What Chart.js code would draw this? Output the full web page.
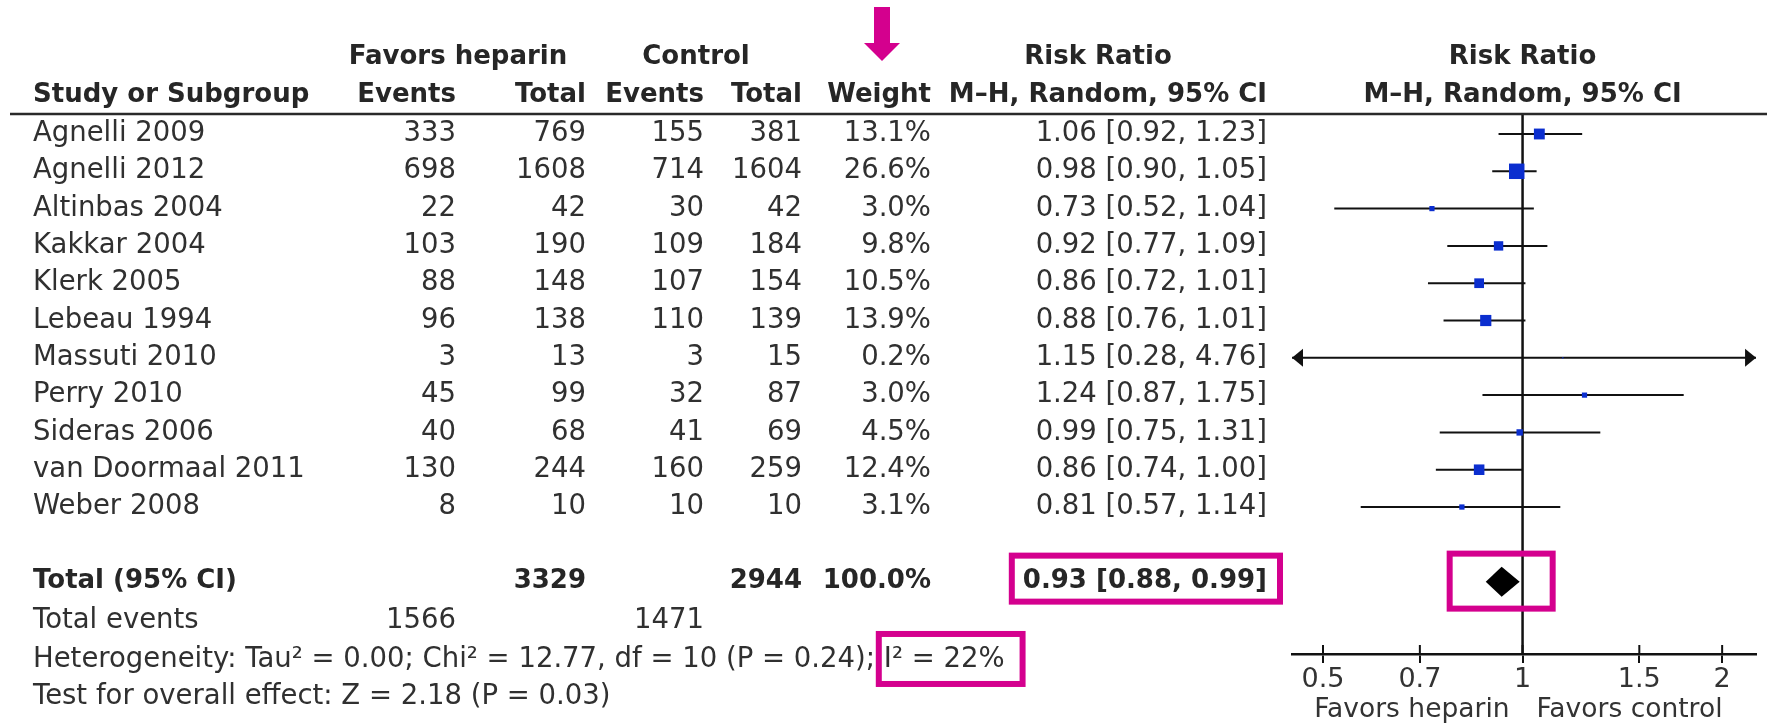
<!DOCTYPE html>
<html>
<head>
<meta charset="utf-8">
<title>Forest plot: heparin vs control</title>
<script src="https://cdn.jsdelivr.net/npm/chart.js@4.4.1/dist/chart.umd.min.js"></script>
<style>
  html, body { margin: 0; padding: 0; background: #fff; }
  canvas { display: block; }
</style>
</head>
<body>
<canvas id="forest" width="1767" height="724"></canvas>
<script>
// ---- study data ----
const studies = ['Agnelli 2009', 'Agnelli 2012', 'Altinbas 2004', 'Kakkar 2004', 'Klerk 2005',
  'Lebeau 1994', 'Massuti 2010', 'Perry 2010', 'Sideras 2006', 'van Doormaal 2011', 'Weber 2008'];
const hepEvents = [333, 698, 22, 103, 88, 96, 3, 45, 40, 130, 8];
const hepTotal  = [769, 1608, 42, 190, 148, 138, 13, 99, 68, 244, 10];
const ctlEvents = [155, 714, 30, 109, 107, 110, 3, 32, 41, 160, 10];
const ctlTotal  = [381, 1604, 42, 184, 154, 139, 15, 87, 69, 259, 10];
const weights   = [13.1, 26.6, 3.0, 9.8, 10.5, 13.9, 0.2, 3.0, 4.5, 12.4, 3.1];
const rr        = [1.06, 0.98, 0.73, 0.92, 0.86, 0.88, 1.15, 1.24, 0.99, 0.86, 0.81];
const rrLow     = [0.92, 0.90, 0.52, 0.77, 0.72, 0.76, 0.28, 0.87, 0.75, 0.74, 0.57];
const rrHigh    = [1.23, 1.05, 1.04, 1.09, 1.01, 1.01, 4.76, 1.75, 1.31, 1.00, 1.14];

// ---- pooled result ----
const pooledRR = [0.93, 0.88, 0.99];          // estimate, lower, upper
const pooledTotals = [3329, 2944];            // heparin, control participants
const pooledEvents = [1566, 1471];            // heparin, control events
const pooledWeight = [100.0];
const heterogeneityText = ['Heterogeneity: Tau\u00B2 = 0.00; Chi\u00B2 = 12.77, df = 10 (P = 0.24); ', 'I\u00B2 = 22%'];
const overallEffectText = ['Test for overall effect: Z = 2.18 (P = 0.03)'];

// ---- axis ----
const tickValues = [0.5, 0.7, 1, 1.5, 2];
const axisRange = [0.449, 2.25];
const axisSideLabels = ['Favors heparin', 'Favors control'];

// ---- styling / layout ----
const FONT = '"DejaVu Sans", "Liberation Sans", sans-serif';
const INK = '#262626';
const BODY_INK = '#303030';
const BLUE = '#0b2ecf';
const MAGENTA = '#d4008e';
const SIZE_REG = 27.5, SIZE_BOLD = 26;
const ROW_GROUP = -2.06, ROW_COLS = -1.04, ROW_TOTAL = 12, ROW_EVENTS = 13.05, ROW_HET = 14.1, ROW_TEST = 15.1;
const COL = { study: 33, hepEvents: 456, hepTotal: 586, ctlEvents: 704, ctlTotal: 802, weight: 931, ci: 1267 };

const fmtCI = (r, l, h) => r.toFixed(2) + ' [' + l.toFixed(2) + ', ' + h.toFixed(2) + ']';
// square area proportional to study weight
const squareRadius = w => 3.0 * Math.sqrt(w) / Math.SQRT2;

const estimates = rr.map((v, i) => ({ x: v, y: i }));
const ciSegments = [];
studies.forEach((_, i) => {
  ciSegments.push({ x: rrLow[i], y: i }, { x: rrHigh[i], y: i }, { x: rrHigh[i], y: NaN });
});

function setFont(ctx, bold, size) {
  ctx.font = (bold ? 'bold ' : '') + (size || (bold ? SIZE_BOLD : SIZE_REG)) + 'px ' + FONT;
}
function put(ctx, str, x, y, align, bold, size) {
  setFont(ctx, bold, size);
  ctx.textAlign = align;
  ctx.fillText(str, x, y);
}

const forestPlugin = {
  id: 'forestTable',
  beforeDatasetsDraw(chart) {
    const { ctx, chartArea: a, scales: { x } } = chart;
    const x1 = x.getPixelForValue(1);
    ctx.save();
    ctx.strokeStyle = '#111';
    ctx.lineWidth = 2.5;
    ctx.beginPath();
    ctx.moveTo(x1, a.top);
    ctx.lineTo(x1, a.bottom);
    ctx.stroke();
    // upper half of each tick mark (the axis draws the lower half)
    ctx.lineWidth = 2;
    tickValues.forEach(v => {
      const px = x.getPixelForValue(v);
      ctx.beginPath();
      ctx.moveTo(px, a.bottom - 9);
      ctx.lineTo(px, a.bottom);
      ctx.stroke();
    });
    ctx.restore();
  },
  afterDatasetsDraw(chart) {
    const { ctx, chartArea: a, scales: { x, y } } = chart;
    ctx.save();
    ctx.fillStyle = '#111';
    // arrowheads where a confidence interval runs past the axis
    studies.forEach((_, i) => {
      const py = y.getPixelForValue(i);
      if (rrLow[i] < x.min) {
        ctx.beginPath();
        ctx.moveTo(a.left, py); ctx.lineTo(a.left + 11, py - 9); ctx.lineTo(a.left + 11, py + 9);
        ctx.closePath(); ctx.fill();
      }
      if (rrHigh[i] > x.max) {
        ctx.beginPath();
        ctx.moveTo(a.right, py); ctx.lineTo(a.right - 11, py - 9); ctx.lineTo(a.right - 11, py + 9);
        ctx.closePath(); ctx.fill();
      }
    });
    // pooled diamond
    const yT = y.getPixelForValue(ROW_TOTAL);
    const xe = x.getPixelForValue(pooledRR[0]);
    ctx.fillStyle = '#000';
    ctx.beginPath();
    ctx.moveTo(x.getPixelForValue(pooledRR[1]), yT);
    ctx.lineTo(xe, yT - 15);
    ctx.lineTo(x.getPixelForValue(pooledRR[2]), yT);
    ctx.lineTo(xe, yT + 15);
    ctx.closePath();
    ctx.fill();
    ctx.restore();
  },
  afterDraw(chart) {
    const { ctx, chartArea: a, scales: { x, y } } = chart;
    const x1 = x.getPixelForValue(1);
    const row = r => y.getPixelForValue(r);
    ctx.save();
    ctx.textBaseline = 'middle';
    ctx.fillStyle = INK;

    // header rule
    ctx.strokeStyle = '#2a2a2a';
    ctx.lineWidth = 2.5;
    ctx.beginPath();
    ctx.moveTo(10, a.top);
    ctx.lineTo(1767, a.top);
    ctx.stroke();

    // column headers
    const yg = row(ROW_GROUP), yc = row(ROW_COLS);
    put(ctx, 'Favors heparin', 458, yg, 'center', true);
    put(ctx, 'Control', 696, yg, 'center', true);
    put(ctx, 'Risk Ratio', 1098, yg, 'center', true);
    put(ctx, 'Risk Ratio', x1, yg, 'center', true);
    put(ctx, 'Study or Subgroup', COL.study, yc, 'left', true);
    put(ctx, 'Events', COL.hepEvents, yc, 'right', true);
    put(ctx, 'Total', COL.hepTotal, yc, 'right', true);
    put(ctx, 'Events', COL.ctlEvents, yc, 'right', true);
    put(ctx, 'Total', COL.ctlTotal, yc, 'right', true);
    put(ctx, 'Weight', COL.weight, yc, 'right', true);
    put(ctx, 'M\u2013H, Random, 95% CI', COL.ci, yc, 'right', true);
    put(ctx, 'M\u2013H, Random, 95% CI', x1, yc, 'center', true);

    // study rows
    ctx.fillStyle = BODY_INK;
    studies.forEach((name, i) => {
      const py = row(i);
      put(ctx, name, COL.study, py, 'left');
      put(ctx, String(hepEvents[i]), COL.hepEvents, py, 'right');
      put(ctx, String(hepTotal[i]), COL.hepTotal, py, 'right');
      put(ctx, String(ctlEvents[i]), COL.ctlEvents, py, 'right');
      put(ctx, String(ctlTotal[i]), COL.ctlTotal, py, 'right');
      put(ctx, weights[i].toFixed(1) + '%', COL.weight, py, 'right');
      put(ctx, fmtCI(rr[i], rrLow[i], rrHigh[i]), COL.ci, py, 'right');
    });

    // pooled rows
    const yT = row(ROW_TOTAL);
    ctx.fillStyle = INK;
    put(ctx, 'Total (95% CI)', COL.study, yT, 'left', true);
    put(ctx, String(pooledTotals[0]), COL.hepTotal, yT, 'right', true);
    put(ctx, String(pooledTotals[1]), COL.ctlTotal, yT, 'right', true);
    put(ctx, pooledWeight[0].toFixed(1) + '%', COL.weight, yT, 'right', true);
    const pooledStr = fmtCI(pooledRR[0], pooledRR[1], pooledRR[2]);
    put(ctx, pooledStr, COL.ci, yT, 'right', true);
    setFont(ctx, true);
    const pooledW = ctx.measureText(pooledStr).width;

    ctx.fillStyle = BODY_INK;
    const yE = row(ROW_EVENTS), yH = row(ROW_HET), yZ = row(ROW_TEST);
    put(ctx, 'Total events', COL.study, yE, 'left');
    put(ctx, String(pooledEvents[0]), COL.hepEvents, yE, 'right');
    put(ctx, String(pooledEvents[1]), COL.ctlEvents, yE, 'right');
    put(ctx, heterogeneityText.join(''), COL.study, yH, 'left');
    setFont(ctx, false);
    const hetPrefixW = ctx.measureText(heterogeneityText[0]).width;
    const hetW = ctx.measureText(heterogeneityText.join('')).width;
    put(ctx, overallEffectText[0], COL.study, yZ, 'left');

    // axis side captions
    ctx.fillStyle = '#333';
    const yF = a.bottom + 56;
    put(ctx, axisSideLabels[0], x1 - 13, yF, 'right', false, 26.5);
    put(ctx, axisSideLabels[1], x1 + 14, yF, 'left', false, 26.5);

    // highlight marks
    ctx.strokeStyle = MAGENTA;
    ctx.fillStyle = MAGENTA;
    ctx.lineWidth = 6;
    const box = (l, t, r, b) => ctx.strokeRect(l + 3, t + 3, r - l - 6, b - t - 6);
    box(COL.ci - pooledW - 14, yT - 29, COL.ci + 16, yT + 23);
    const xe = x.getPixelForValue(pooledRR[0]);
    box(xe - 55, yT - 31, xe + 54, yT + 30);
    box(COL.study + hetPrefixW - 8, yH - 29, COL.study + hetW + 21, yH + 27);
    const cx = COL.weight - 49;
    ctx.fillRect(cx - 8, 7, 16, 37);
    ctx.beginPath();
    ctx.moveTo(cx - 18, 43); ctx.lineTo(cx + 18, 43); ctx.lineTo(cx, 61);
    ctx.closePath();
    ctx.fill();
    ctx.restore();
  }
};

Chart.defaults.font.family = FONT;

new Chart(document.getElementById('forest'), {
  type: 'scatter',
  data: {
    datasets: [
      {
        type: 'scatter',
        data: estimates,
        pointStyle: 'rect',
        pointRadius: ctx => squareRadius(weights[ctx.dataIndex]),
        pointHoverRadius: ctx => squareRadius(weights[ctx.dataIndex]),
        pointBackgroundColor: BLUE,
        pointBorderWidth: 0,
        borderWidth: 0
      },
      {
        type: 'line',
        data: ciSegments,
        borderColor: '#111',
        borderWidth: 2,
        pointRadius: 0,
        spanGaps: false,
        tension: 0,
        fill: false
      }
    ]
  },
  options: {
    responsive: false,
    animation: false,
    devicePixelRatio: 1,
    events: [],
    layout: { padding: { left: 1292, right: 10, top: 114, bottom: 0 } },
    plugins: { legend: { display: false }, tooltip: { enabled: false } },
    scales: {
      x: {
        type: 'logarithmic',
        position: 'bottom',
        min: axisRange[0],
        max: axisRange[1],
        afterBuildTicks: s => { s.ticks = tickValues.map(v => ({ value: v })); },
        afterFit: s => { s.height = 70; },
        border: { display: true, color: '#111', width: 2.5 },
        grid: { display: true, drawOnChartArea: false, drawTicks: true, tickLength: 9, color: '#111', lineWidth: 2 },
        ticks: {
          autoSkip: false, maxRotation: 0, padding: 1, color: '#333',
          font: { size: 27, family: FONT },
          callback: v => String(v)
        }
      },
      y: { type: 'linear', reverse: true, min: -0.536, max: 13.94, display: false }
    }
  },
  plugins: [forestPlugin]
});
</script>
</body>
</html>
